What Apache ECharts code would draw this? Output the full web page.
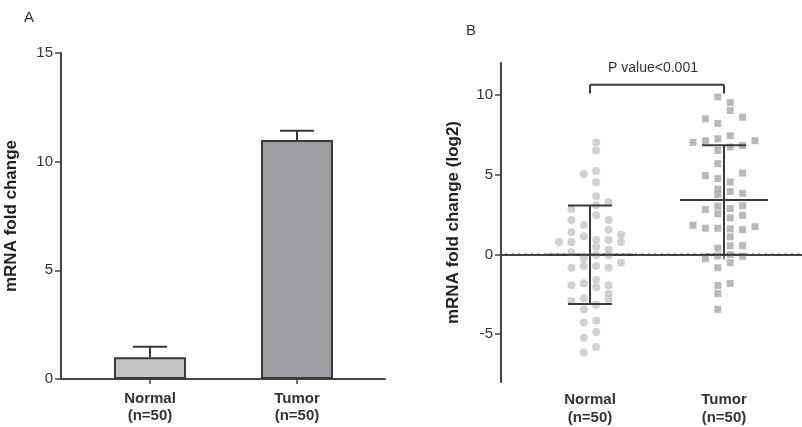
<!DOCTYPE html>
<html>
<head>
<meta charset="utf-8">
<script src="https://cdn.jsdelivr.net/npm/echarts@6/dist/echarts.min.js"></script>
<style>
    html, body { margin: 0; padding: 0; background: #fff; }
    #chart { width: 802px; height: 427px; }
</style>
</head>
<body>
<div id="chart"></div>
<script>
    // A: mRNA fold change (bar = mean, whisker top)
    var groups = ['Normal\n(n=50)', 'Tumor\n(n=50)'];
    var foldMean = [1.0, 11.0];
    var foldErrTop = [1.48, 11.42];

    // B: log2 fold change, one list per dot column (left -> right)
    var normalCols = [
        [0.77],
        [2.85, 2.16, 1.39, 0.77, 0.14, -0.84, -1.94, -2.92],
        [5.04, 1.85, 1.14, -0.25, -0.73, -1.81, -2.75, -3.44, -4.27, -5.23, -6.15],
        [7.02, 6.52, 5.23, 4.52, 3.64, 3.08, 2.46, 0.91, 0.46, -0.04, -0.73, -1.6, -2.06, -3.15, -4.15, -4.86, -5.8],
        [3.27, 2.16, 1.54, 0.91, 0.29, -0.06, -0.84, -1.94, -2.46, -2.81],
        [1.23, 0.77, -0.52]
    ];
    var tumorCols = [
        [7.02, 1.83],
        [8.5, 7.12, 4.94, 2.81, 1.64, -0.27],
        [9.87, 8.21, 7.25, 6.52, 5.69, 4.75, 4.1, 3.75, 3.03, 2.55, 1.64, 0.4, -0.1, -0.84, -1.95, -2.45, -3.44],
        [9.52, 9.02, 7.44, 6.73, 4.54, 3.94, 2.87, 2.29, 1.6, 1.1, 0.54, -0.02, -0.52, -1.82],
        [8.6, 6.83, 5.1, 3.83, 3.06, 2.45, 1.55, 0.55, -0.12],
        [7.13, 1.74]
    ];
    var colSlots = [-2.5, -1.5, -0.5, 0.5, 1.5, 2.5];
    var pText = 'P value<0.001';

    // layout (x axes are in 100px units)
    var posA = [0.89, 2.36];
    var posB = [0.89, 2.23];
    var xMaxB = 3.01;
    var slotW = 0.124;
    var font = 'Liberation Sans, Arial, sans-serif';
    var axisCol = '#444';

    function flat(cols) {
        var out = [];
        cols.forEach(function (c) { c.forEach(function (v) { out.push(v); }); });
        return out;
    }
    function mean(a) {
        var s = 0;
        a.forEach(function (v) { s += v; });
        return s / a.length;
    }
    function sd(a) {
        var m = mean(a), s = 0;
        a.forEach(function (v) { s += (v - m) * (v - m); });
        return Math.sqrt(s / (a.length - 1));
    }
    function dots(cols, x0) {
        var out = [];
        cols.forEach(function (c, i) {
            c.forEach(function (v) { out.push([x0 + colSlots[i] * slotW, v]); });
        });
        return out;
    }
    function groupLabel(pos) {
        return function (v) {
            var best = 0;
            pos.forEach(function (p, i) { if (Math.abs(p - v) < Math.abs(pos[best] - v)) best = i; });
            return groups[best];
        };
    }

    var normalAll = flat(normalCols);
    var tumorAll = flat(tumorCols);
    var stats = [
        [posB[0], mean(normalAll), sd(normalAll)],
        [posB[1], mean(tumorAll), sd(tumorAll)]
    ];

    var line = function (x1, y1, x2, y2) {
        return { type: 'line', shape: { x1: x1, y1: y1, x2: x2, y2: y2 },
                 style: { stroke: '#3a3a3a', lineWidth: 2 } };
    };

    var xAxisBase = {
        type: 'value',
        axisLine: { lineStyle: { color: axisCol, width: 2 } },
        axisTick: { length: 5, lineStyle: { color: axisCol, width: 1.5 } },
        splitLine: { show: false },
        axisLabel: { fontFamily: font, fontSize: 15, fontWeight: 'bold', color: '#333', lineHeight: 17, margin: 11 }
    };
    var yAxisBase = {
        type: 'value',
        nameLocation: 'middle',
        nameTextStyle: { fontFamily: font, fontSize: 17, fontWeight: 'bold', color: '#222' },
        axisLine: { show: true, lineStyle: { color: axisCol, width: 2 } },
        axisTick: { show: true, length: 6, lineStyle: { color: axisCol, width: 1.5 } },
        splitLine: { show: false },
        axisLabel: { fontFamily: font, fontSize: 15, color: '#333', margin: 8 }
    };

    var myChart = echarts.init(document.getElementById('chart'));
    var option = {
        animation: false,
        backgroundColor: '#fff',
        graphic: [
            { type: 'text', left: 24, top: 10, style: { text: 'A', fontFamily: font, fontSize: 15, fill: '#333' } },
            { type: 'text', left: 466, top: 23, style: { text: 'B', fontFamily: font, fontSize: 15, fill: '#333' } }
        ],
        grid: [
            { left: 61, top: 53, width: 324, height: 326 },
            { left: 501, top: 63, width: 301, height: 319 }
        ],
        xAxis: [
            echarts.util.merge({
                gridIndex: 0, min: 0, max: 3.24,
                axisTick: { customValues: posA },
                axisLabel: { customValues: posA, formatter: groupLabel(posA) }
            }, xAxisBase),
            echarts.util.merge({
                gridIndex: 1, min: 0, max: xMaxB,
                axisTick: { customValues: posB },
                axisLabel: { customValues: posB, formatter: groupLabel(posB), margin: 9, lineHeight: 18 }
            }, xAxisBase)
        ],
        yAxis: [
            echarts.util.merge({
                gridIndex: 0, min: 0, max: 15, interval: 5,
                name: 'mRNA fold change', nameGap: 41
            }, yAxisBase),
            echarts.util.merge({
                gridIndex: 1, min: -8, max: 12,
                name: 'mRNA fold change (log2)', nameGap: 39,
                axisTick: { customValues: [-5, 0, 5, 10] },
                axisLabel: { customValues: [-5, 0, 5, 10] }
            }, yAxisBase)
        ],
        series: [
            {
                type: 'bar',
                xAxisIndex: 0, yAxisIndex: 0,
                barWidth: 72,
                data: [
                    { value: [posA[0], foldMean[0]], itemStyle: { color: '#c4c4c6' } },
                    { value: [posA[1], foldMean[1]], itemStyle: { color: '#9e9ea2' } }
                ],
                itemStyle: { borderColor: '#3a3a3a', borderWidth: 2 }
            },
            {
                type: 'custom',
                xAxisIndex: 0, yAxisIndex: 0,
                data: [[posA[0], foldErrTop[0], foldMean[0]], [posA[1], foldErrTop[1], foldMean[1]]],
                renderItem: function (params, api) {
                    var top = api.coord([api.value(0), api.value(1)]);
                    var base = api.coord([api.value(0), api.value(2)]);
                    var hw = api.size([0.17, 0])[0];
                    return { type: 'group', children: [
                        line(top[0], base[1], top[0], top[1]),
                        line(top[0] - hw, top[1], top[0] + hw, top[1])
                    ] };
                },
                z: 1
            },
            {
                // dotted reference line at 0
                type: 'custom',
                xAxisIndex: 1, yAxisIndex: 1,
                data: [[0, xMaxB, 0]],
                renderItem: function (params, api) {
                    var a = api.coord([api.value(0), api.value(2)]);
                    var b = api.coord([api.value(1), api.value(2)]);
                    return { type: 'line', shape: { x1: a[0] + 4, y1: a[1], x2: b[0], y2: b[1] },
                             style: { stroke: '#444', lineWidth: 2, lineDash: [2, 4.5] } };
                },
                z: 1
            },
            {
                type: 'scatter',
                xAxisIndex: 1, yAxisIndex: 1,
                symbol: 'circle', symbolSize: 8,
                itemStyle: { color: '#c6c6c6' },
                data: dots(normalCols, posB[0]),
                z: 2
            },
            {
                type: 'scatter',
                xAxisIndex: 1, yAxisIndex: 1,
                symbol: 'rect', symbolSize: 7,
                itemStyle: { color: '#a8a8a8' },
                data: dots(tumorCols, posB[1]),
                z: 2
            },
            {
                type: 'custom',
                xAxisIndex: 1, yAxisIndex: 1,
                data: stats,
                renderItem: function (params, api) {
                    var x = api.value(0), m = api.value(1), s = api.value(2);
                    var c = api.coord([x, m]);
                    var hi = api.coord([x, m + s]);
                    var lo = api.coord([x, m - s]);
                    var mw = api.size([0.44, 0])[0];
                    var cw = api.size([0.22, 0])[0];
                    return { type: 'group', children: [
                        line(c[0] - mw, c[1], c[0] + mw, c[1]),
                        line(c[0], lo[1], c[0], hi[1]),
                        line(c[0] - cw, hi[1], c[0] + cw, hi[1]),
                        line(c[0] - cw, lo[1], c[0] + cw, lo[1])
                    ] };
                },
                z: 3
            },
            {
                type: 'custom',
                xAxisIndex: 1, yAxisIndex: 1,
                data: [[posB[0], posB[1], 10.64, 10.08, 11.7]],
                renderItem: function (params, api) {
                    var a = api.coord([api.value(0), api.value(2)]);
                    var b = api.coord([api.value(1), api.value(2)]);
                    var tickY = api.coord([api.value(0), api.value(3)])[1];
                    var ty = api.coord([api.value(0), api.value(4)])[1];
                    return { type: 'group', children: [
                        line(a[0], tickY, a[0], a[1]),
                        line(a[0], a[1], b[0], b[1]),
                        line(b[0], b[1], b[0], tickY),
                        { type: 'text', x: (a[0] + b[0]) / 2 - 4, y: ty,
                          style: { text: pText, fontFamily: font, fontSize: 14, fill: '#333',
                                   align: 'center', verticalAlign: 'middle' } }
                    ] };
                },
                z: 3
            }
        ]
    };
    myChart.setOption(option);
</script>
</body>
</html>
